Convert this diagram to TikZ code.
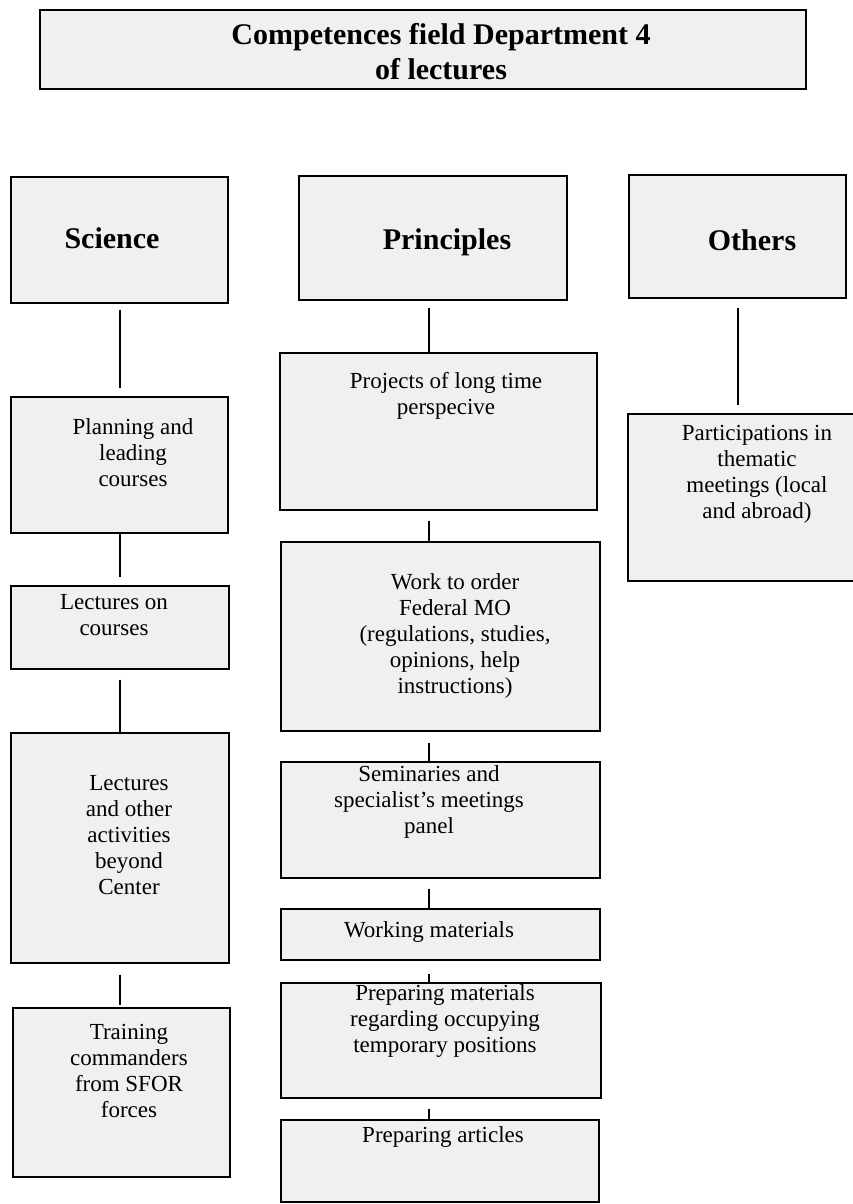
\documentclass[tikz,border=0pt]{standalone}
\usepackage{fontspec}
\setmainfont{Liberation Serif}
\usepackage{tikz}

\begin{document}
\begin{tikzpicture}[x=1pt, y=-1pt,
  box/.style={draw, line width=1.4pt, fill=black!6, inner sep=0pt},
  txt/.style={align=center, font=\fontsize{23}{26}\selectfont},
  head/.style={align=center, font=\bfseries\fontsize{30}{35}\selectfont},
  link/.style={line width=1.6pt}]
\useasboundingbox (0,0) rectangle (853,1204);
\node[box, minimum width=766pt, minimum height=79pt] (title) at (423,49.5) {};
\node[head] (titleT) at (441,52) {Competences field Department 4\\of lectures};
\node[box, minimum width=217pt, minimum height=126pt] (sci) at (119.5,240) {};
\node[head] (sciT) at (112,238) {Science};
\node[box, minimum width=268pt, minimum height=124pt] (prin) at (433,238) {};
\node[head] (prinT) at (447,242) {Principles};
\node[box, minimum width=217pt, minimum height=123pt] (oth) at (737.5,236.5) {};
\node[head] (othT) at (752,240) {Others};
\node[box, minimum width=217pt, minimum height=136pt] (plan) at (119.5,465) {};
\node[txt] (planT) at (133,453) {Planning and\\leading\\courses};
\node[box, minimum width=218pt, minimum height=83pt] (lec) at (120,627.5) {};
\node[txt] (lecT) at (114,615) {Lectures on\\courses};
\node[box, minimum width=218pt, minimum height=230pt] (act) at (120,848) {};
\node[txt] (actT) at (129,835) {Lectures\\and other\\activities\\beyond\\Center};
\node[box, minimum width=217pt, minimum height=169pt] (train) at (121.5,1092.5) {};
\node[txt] (trainT) at (129,1071) {Training\\commanders\\from SFOR\\forces};
\node[box, minimum width=317pt, minimum height=157pt] (proj) at (438.5,431.5) {};
\node[txt] (projT) at (446,396) {Projects of long time\\perspecive};
\node[box, minimum width=319pt, minimum height=189pt] (work) at (440.5,636.5) {};
\node[txt] (workT) at (455,636) {Work to order\\Federal MO\\(regulations, studies,\\opinions, help\\instructions)};
\node[box, minimum width=319pt, minimum height=116pt] (sem) at (440.5,820) {};
\node[txt] (semT) at (429,802) {Seminaries and\\specialist's meetings\\panel};
\node[box, minimum width=319pt, minimum height=51pt] (wmat) at (440.5,934.5) {};
\node[txt] (wmatT) at (429,932) {Working materials};
\node[box, minimum width=320pt, minimum height=115pt] (prep) at (441,1040.5) {};
\node[txt] (prepT) at (445,1021) {Preparing materials\\regarding occupying\\temporary positions};
\node[box, minimum width=318pt, minimum height=82pt] (art) at (440,1161) {};
\node[txt] (artT) at (443,1137) {Preparing articles};
\node[box, minimum width=228pt, minimum height=167pt] (part) at (742,497.5) {};
\node[txt] (partT) at (757,474) {Participations in\\thematic\\meetings (local\\and abroad)};
\coordinate (scol) at (120,0);
\coordinate (pcol) at (429,0);
\coordinate (ocol) at (738,0);
\draw[link, shorten <=6pt, shorten >=8pt] (sci.south -| scol) -- (plan.north -| scol);
\draw[link, shorten >=8pt] (plan.south -| scol) -- (lec.north -| scol);
\draw[link, shorten <=10pt] (lec.south -| scol) -- (act.north -| scol);
\draw[link, shorten <=11pt, shorten >=2pt] (act.south -| scol) -- (train.north -| scol);
\draw[link, shorten <=7pt] (prin.south -| pcol) -- (proj.north -| pcol);
\draw[link, shorten <=10pt] (proj.south -| pcol) -- (work.north -| pcol);
\draw[link, shorten <=11pt] (work.south -| pcol) -- (sem.north -| pcol);
\draw[link, shorten <=10pt] (sem.south -| pcol) -- (wmat.north -| pcol);
\draw[link, shorten <=13pt] (wmat.south -| pcol) -- (prep.north -| pcol);
\draw[link, shorten <=10pt] (prep.south -| pcol) -- (art.north -| pcol);
\draw[link, shorten <=9pt, shorten >=8pt] (oth.south -| ocol) -- (part.north -| ocol);
\end{tikzpicture}
\end{document}
